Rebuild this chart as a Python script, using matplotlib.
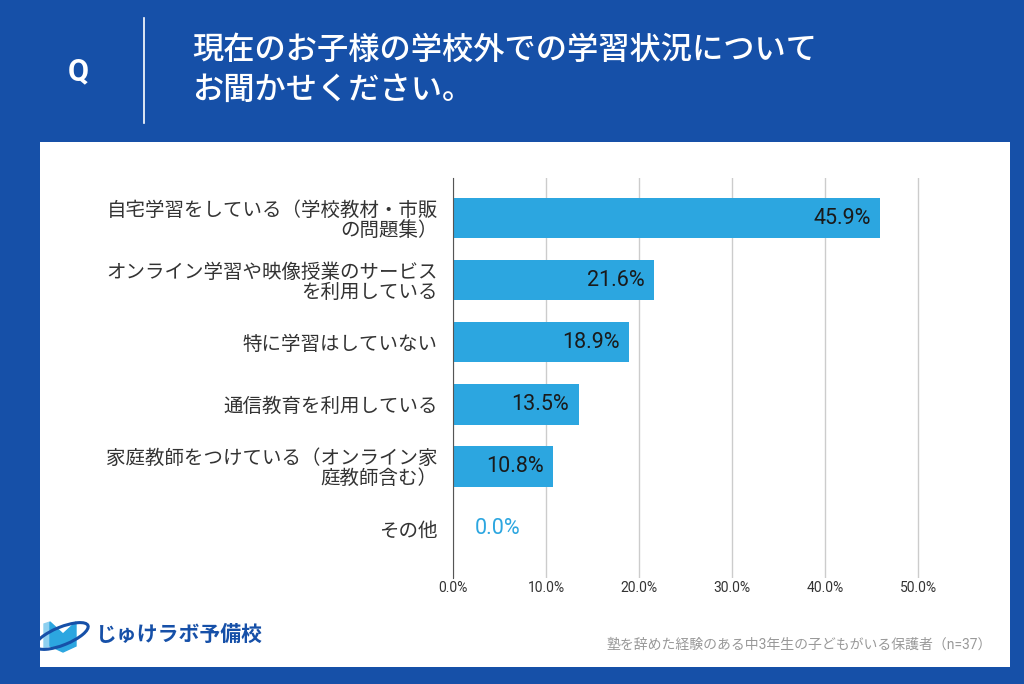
import matplotlib.pyplot as plt
from matplotlib.patches import Rectangle, Polygon, Ellipse

plt.rcParams['font.family'] = ['Noto Sans CJK JP', 'DejaVu Sans']
num_font = ['Roboto', 'Noto Sans CJK JP']

categories = [
    "自宅学習をしている（学校教材・市販\nの問題集）",
    "オンライン学習や映像授業のサービス\nを利用している",
    "特に学習はしていない",
    "通信教育を利用している",
    "家庭教師をつけている（オンライン家\n庭教師含む）",
    "その他",
]
values = [45.9, 21.6, 18.9, 13.5, 10.8, 0.0]
xticks = [0, 10, 20, 30, 40, 50]

navy = "#1650a8"
bar_color = "#2ca6e0"

fig = plt.figure(figsize=(10.24, 6.84), dpi=100)
fig.patch.set_facecolor(navy)

# white panel behind everything
fig.patches.append(Rectangle((40 / 1024, 1 - 667 / 684), 970 / 1024, 525 / 684,
                             transform=fig.transFigure, facecolor="white",
                             edgecolor="none", zorder=-5))

# header
fig.text(78 / 1024, 1 - 71 / 684, "Q", color="white", fontsize=22,
         fontweight="bold", ha="center", va="center", family=num_font)
fig.add_artist(plt.Line2D([144 / 1024, 144 / 1024], [1 - 18 / 684, 1 - 123 / 684],
                          color="white", lw=1.2, transform=fig.transFigure))
fig.text(192 / 1024, 1 - 50 / 684, "現在のお子様の学校外での学習状況について",
         color="white", fontsize=22.5, fontweight="medium", va="center")
fig.text(192 / 1024, 1 - 90 / 684, "お聞かせください。",
         color="white", fontsize=22.5, fontweight="medium", va="center")

ax = fig.add_axes([453 / 1024, 1 - 578 / 684, 467 / 1024, 400 / 684])
ypos = list(range(len(categories)))
ax.barh(ypos, values, height=0.65, color=bar_color, zorder=2)
ax.set_xlim(0, 50.2)
ax.set_ylim(5.8, -0.65)
ax.set_yticks(ypos)
ax.set_yticklabels(categories, fontsize=14, color="#333333", linespacing=0.95)
ax.set_xticks(xticks)
ax.set_xticklabels([f"{t:.1f}%" for t in xticks], fontsize=10, color="#333333",
                   family=num_font)
ax.tick_params(axis="x", length=0, pad=2)
ax.tick_params(axis="y", length=0, pad=11)
ax.xaxis.grid(True, color="#cccccc", lw=1, zorder=0)
for s in ["top", "right", "bottom"]:
    ax.spines[s].set_visible(False)
ax.spines["left"].set_color("#555555")
ax.spines["left"].set_zorder(3)

for y, v in zip(ypos, values):
    if v > 3:
        ax.text(v - 1.0, y, f"{v:.1f}%", ha="right", va="center", family=num_font,
                fontsize=15.5, color="#1a1a1a", zorder=3)
    else:
        ax.text(v + 2.3, y, f"{v:.1f}%", ha="left", va="center", family=num_font,
                fontsize=15.5, color=bar_color, zorder=3)

# logo
logo = fig.add_axes([30 / 1024, 1 - 656 / 684, 65 / 1024, 44 / 684])
logo.set_xlim(0, 65)
logo.set_ylim(0, 44)
logo.axis("off")
logo.add_patch(Polygon([[14, 8], [14, 32], [20, 34], [20, 10]], color="#8ed0f0"))
logo.add_patch(Polygon([[20, 10], [20, 34], [33, 22], [46, 34], [46, 10], [33, 4]],
                       color=bar_color))
logo.add_patch(Ellipse((32, 20), 56, 18, angle=22, fill=False, ec=navy, lw=2.2,
                       clip_on=False))
fig.text(96 / 1024, 1 - 634 / 684, "じゅけラボ予備校", color=navy,
         fontsize=15, fontweight="bold", va="center")

fig.text(992 / 1024, 1 - 645 / 684, "塾を辞めた経験のある中3年生の子どもがいる保護者（n=37）",
         color="#999999", fontsize=10, ha="right", va="center", family=num_font)

fig.savefig("out.png", dpi=100, facecolor=navy)
